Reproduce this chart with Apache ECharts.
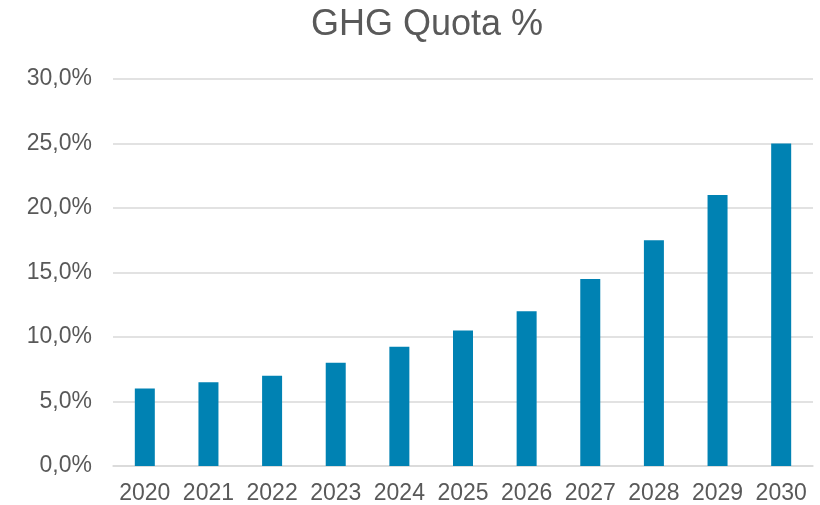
<!DOCTYPE html>
<html>
<head>
<meta charset="utf-8">
<script src="https://cdn.jsdelivr.net/npm/echarts@6/dist/echarts.min.js"></script>
<style>
  html, body { margin: 0; padding: 0; background: #fff; }
  #chart { width: 820px; height: 505px; }
</style>
</head>
<body>
<div id="chart"></div>
<script>
// data
const years = ['2020', '2021', '2022', '2023', '2024', '2025', '2026', '2027', '2028', '2029', '2030'];
const quota = [6.0, 6.5, 7.0, 8.0, 9.25, 10.5, 12.0, 14.5, 17.5, 21.0, 25.0];

const textColor = '#595959';
const font = 'Liberation Sans, Arial, sans-serif';

const chart = echarts.init(document.getElementById('chart'), null, { renderer: 'canvas' });

chart.setOption({
  animation: false,
  title: {
    text: 'GHG Quota %',
    left: 306,
    top: 2,
    textStyle: { color: textColor, fontSize: 36, fontWeight: 'normal', fontFamily: font }
  },
  grid: { left: 113, right: 7, top: 79, bottom: 39 },
  xAxis: {
    type: 'category',
    data: years,
    axisLine: { lineStyle: { color: '#d9d9d9', width: 1.5 } },
    axisTick: { show: false },
    axisLabel: { color: textColor, fontSize: 23, fontFamily: font, margin: 16, interval: 0 }
  },
  yAxis: {
    type: 'value',
    min: 0,
    max: 30,
    interval: 5,
    axisLine: { show: false },
    axisTick: { show: false },
    splitLine: { lineStyle: { color: '#d9d9d9', width: 1.5 } },
    axisLabel: {
      color: textColor, fontSize: 23, fontFamily: font, margin: 21,
      formatter: v => v.toFixed(1).replace('.', ',') + '%'
    }
  },
  series: [{
    type: 'bar',
    data: quota,
    barWidth: 20,
    itemStyle: { color: '#0082b3' }
  }]
});
</script>
</body>
</html>
